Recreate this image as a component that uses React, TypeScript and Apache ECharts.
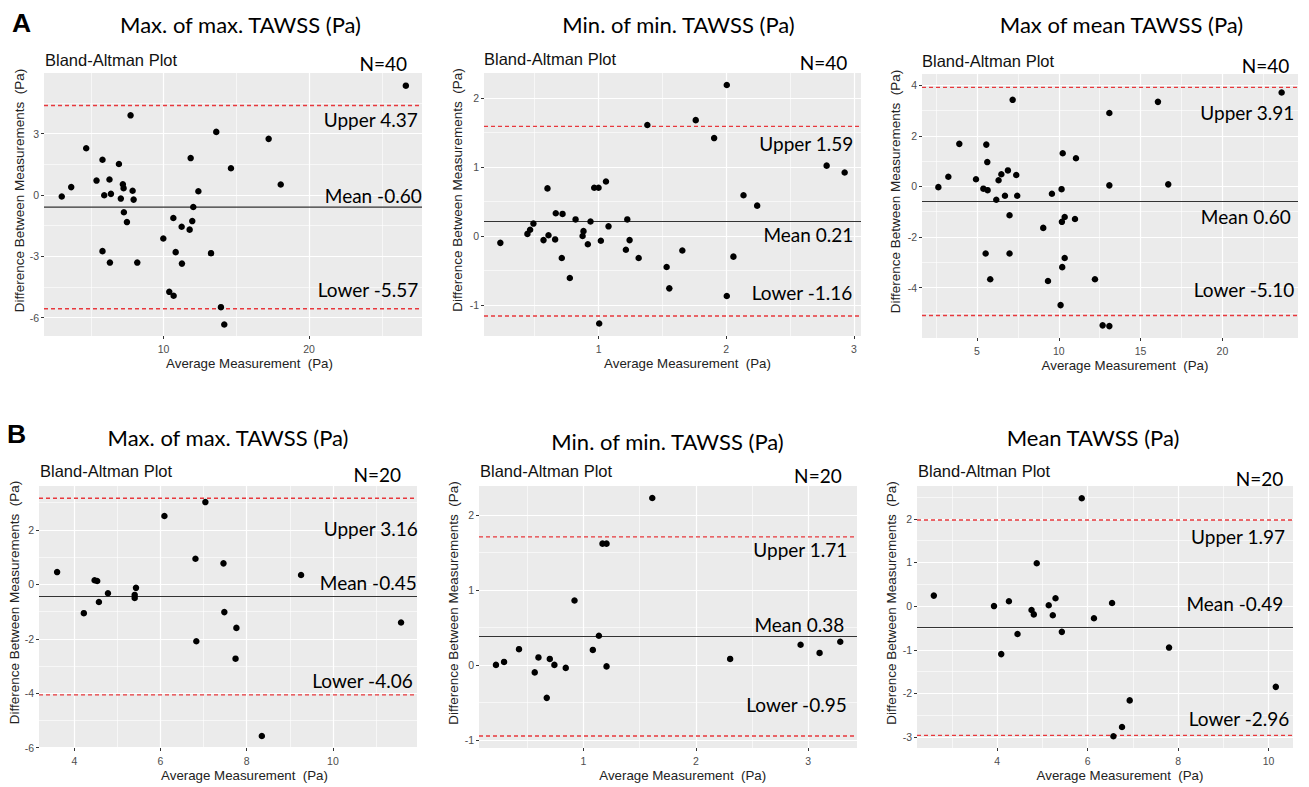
import React, { useEffect, useRef } from "react";
import * as echarts from "echarts";

const SANS = "'Liberation Sans', Arial, sans-serif";
const CAL = "Lato, 'Open Sans', sans-serif";

// ---------- data ----------
const titlesA = ["Max. of max. TAWSS (Pa)", "Min. of min. TAWSS (Pa)", "Max of mean TAWSS (Pa)"];
const titlesB = ["Max. of max. TAWSS (Pa)", "Min. of min. TAWSS (Pa)", "Mean TAWSS (Pa)"];
const nLabels = ["N=40", "N=40", "N=40", "N=20", "N=20", "N=20"];

const a1X = [26.65, 7.73, 13.62, 17.22, 4.68, 5.8, 11.86, 6.93, 14.63, 5.39, 6.28, 3.65, 18.05, 7.2, 7.25, 7.87, 12.39, 3.0, 5.92, 6.38, 7.06, 7.94, 12.04, 7.27, 7.48, 10.67, 11.24, 11.97, 11.79, 9.98, 5.8, 10.83, 13.26, 6.31, 8.19, 11.26, 10.39, 10.69, 13.94, 14.17];
const a1Y = [5.34, 3.89, 3.08, 2.74, 2.28, 1.72, 1.8, 1.51, 1.3, 0.7, 0.75, 0.38, 0.51, 0.52, 0.33, 0.2, 0.18, -0.08, -0.02, 0.05, -0.18, -0.23, -0.59, -0.85, -1.33, -1.13, -1.56, -1.28, -1.7, -2.13, -2.75, -2.8, -2.85, -3.31, -3.31, -3.36, -4.74, -4.93, -5.49, -6.34];

const a2X = [2.004, 1.382, 1.761, 1.905, 2.786, 2.927, 0.6, 0.966, 1.0, 1.058, 2.135, 2.242, 0.665, 0.718, 0.49, 0.82, 0.937, 1.225, 1.078, 0.464, 0.443, 0.608, 0.882, 0.875, 0.231, 0.569, 0.66, 1.018, 1.243, 0.916, 1.214, 1.656, 0.712, 1.314, 2.056, 0.775, 1.533, 1.554, 2.004, 1.005];
const a2Y = [2.19, 1.61, 1.68, 1.42, 1.02, 0.92, 0.69, 0.7, 0.7, 0.79, 0.59, 0.44, 0.33, 0.32, 0.18, 0.24, 0.21, 0.24, 0.14, 0.09, 0.03, 0.01, 0.07, 0.0, -0.1, -0.06, -0.05, -0.07, -0.06, -0.12, -0.2, -0.21, -0.32, -0.32, -0.3, -0.61, -0.45, -0.76, -0.87, -1.27];

const a3X = [23.62, 7.18, 16.06, 13.09, 3.92, 5.57, 10.24, 11.05, 5.63, 3.25, 4.94, 6.89, 6.49, 7.4, 6.32, 2.64, 5.39, 5.65, 13.09, 16.69, 10.17, 6.71, 7.46, 9.58, 6.18, 6.99, 10.36, 10.19, 10.99, 9.05, 5.53, 6.99, 10.36, 10.21, 5.81, 9.34, 12.21, 10.11, 12.68, 13.09];
const a3Y = [3.71, 3.42, 3.34, 2.9, 1.68, 1.65, 1.31, 1.11, 0.96, 0.38, 0.28, 0.63, 0.48, 0.45, 0.24, -0.03, -0.09, -0.15, 0.04, 0.08, -0.11, -0.37, -0.37, -0.29, -0.53, -1.14, -1.21, -1.4, -1.29, -1.64, -2.65, -2.65, -2.83, -3.19, -3.67, -3.74, -3.67, -4.69, -5.49, -5.52];

const b1X = [3.6, 4.47, 4.53, 4.22, 4.57, 4.78, 5.43, 5.4, 5.4, 6.09, 7.04, 6.81, 7.46, 9.26, 7.48, 7.76, 6.83, 7.74, 11.58, 8.35];
const b1Y = [0.45, 0.15, 0.12, -1.06, -0.65, -0.33, -0.13, -0.39, -0.5, 2.51, 3.02, 0.94, 0.77, 0.34, -1.02, -1.6, -2.09, -2.73, -1.4, -5.57];

const b2X = [1.612, 1.169, 1.205, 0.92, 1.137, 1.083, 0.426, 0.221, 0.293, 0.599, 0.7, 0.741, 0.566, 0.842, 1.205, 0.673, 2.305, 2.932, 3.101, 3.285];
const b2Y = [2.23, 1.62, 1.62, 0.86, 0.39, 0.2, 0.21, 0.0, 0.04, 0.1, 0.08, 0.0, -0.1, -0.04, -0.02, -0.44, 0.08, 0.27, 0.16, 0.31];

const b3X = [5.87, 4.875, 2.6, 3.93, 4.26, 4.76, 4.81, 5.14, 5.29, 5.23, 5.43, 4.45, 4.09, 6.14, 6.54, 7.8, 10.16, 6.93, 6.76, 6.57];
const b3Y = [2.47, 0.98, 0.24, 0.0, 0.11, -0.09, -0.19, 0.02, 0.18, -0.21, -0.59, -0.64, -1.1, -0.28, 0.07, -0.95, -1.85, -2.16, -2.77, -2.98];

// limits of agreement: upper, mean, lower
const a1Lines = [4.37, -0.6, -5.57];
const a2Lines = [1.59, 0.21, -1.16];
const a3Lines = [3.91, -0.6, -5.1];
const b1Lines = [3.16, -0.45, -4.06];
const b2Lines = [1.71, 0.38, -0.95];
const b3Lines = [1.97, -0.49, -2.96];

const a1Labels = ["Upper 4.37", "Mean -0.60", "Lower -5.57"];
const a2Labels = ["Upper 1.59", "Mean 0.21", "Lower -1.16"];
const a3Labels = ["Upper 3.91", "Mean 0.60", "Lower -5.10"];
const b1Labels = ["Upper 3.16", "Mean -0.45", "Lower -4.06"];
const b2Labels = ["Upper 1.71", "Mean 0.38", "Lower -0.95"];
const b3Labels = ["Upper 1.97", "Mean -0.49", "Lower -2.96"];

// axis ranges
const a1XRange = [1.78, 27.76];
const a1YRange = [-6.9, 5.96];
const a2XRange = [0.103, 3.055];
const a2YRange = [-1.451, 2.364];
const a3XRange = [1.64, 24.62];
const a3YRange = [-5.99, 4.44];
const b1XRange = [3.18, 11.95];
const b1YRange = [-6.01, 3.61];
const b2XRange = [0.07, 3.434];
const b2YRange = [-1.11, 2.39];
const b3XRange = [2.228, 10.54];
const b3YRange = [-3.25, 2.75];

// tick values (major = labelled, minor = minor gridlines)
const a1XTicks = [10, 20];
const a1XMinor = [5, 15, 25];
const a1YTicks = [-6, -3, 0, 3];
const a1YMinor = [-4.5, -1.5, 1.5, 4.5];
const a2XTicks = [1, 2, 3];
const a2XMinor = [0.5, 1.5, 2.5];
const a2YTicks = [-1, 0, 1, 2];
const a2YMinor = [-0.5, 0.5, 1.5];
const a3XTicks = [5, 10, 15, 20];
const a3XMinor = [2.5, 7.5, 12.5, 17.5, 22.5];
const a3YTicks = [-4, -2, 0, 2, 4];
const a3YMinor = [-5, -3, -1, 1, 3];
const b1XTicks = [4, 6, 8, 10];
const b1XMinor = [5, 7, 9, 11];
const b1YTicks = [-6, -4, -2, 0, 2];
const b1YMinor = [-5, -3, -1, 1, 3];
const b2XTicks = [1, 2, 3];
const b2XMinor = [0.5, 1.5, 2.5];
const b2YTicks = [-1, 0, 1, 2];
const b2YMinor = [-0.5, 0.5, 1.5];
const b3XTicks = [4, 6, 8, 10];
const b3XMinor = [3, 5, 7, 9];
const b3YTicks = [-3, -2, -1, 0, 1, 2];
const b3YMinor = [-2.5, -1.5, -0.5, 0.5, 1.5, 2.5];

const panels = [
  { title: titlesA[0], x: a1X, y: a1Y, lines: a1Lines, labels: a1Labels, xr: a1XRange, yr: a1YRange, xt: a1XTicks, xm: a1XMinor, yt: a1YTicks, ym: a1YMinor },
  { title: titlesA[1], x: a2X, y: a2Y, lines: a2Lines, labels: a2Labels, xr: a2XRange, yr: a2YRange, xt: a2XTicks, xm: a2XMinor, yt: a2YTicks, ym: a2YMinor },
  { title: titlesA[2], x: a3X, y: a3Y, lines: a3Lines, labels: a3Labels, xr: a3XRange, yr: a3YRange, xt: a3XTicks, xm: a3XMinor, yt: a3YTicks, ym: a3YMinor },
  { title: titlesB[0], x: b1X, y: b1Y, lines: b1Lines, labels: b1Labels, xr: b1XRange, yr: b1YRange, xt: b1XTicks, xm: b1XMinor, yt: b1YTicks, ym: b1YMinor },
  { title: titlesB[1], x: b2X, y: b2Y, lines: b2Lines, labels: b2Labels, xr: b2XRange, yr: b2YRange, xt: b2XTicks, xm: b2XMinor, yt: b2YTicks, ym: b2YMinor },
  { title: titlesB[2], x: b3X, y: b3Y, lines: b3Lines, labels: b3Labels, xr: b3XRange, yr: b3YRange, xt: b3XTicks, xm: b3XMinor, yt: b3YTicks, ym: b3YMinor },
];

// ---------- layout (pixels) ----------
const layout = [
  { grid: [44, 73, 378, 263], title: [240.5, 24.5], bland: [45, 60], n: [407, 63], lab: [[417.7, 119.3], [421.7, 195.5], [418.3, 289.2]], yTitle: [19, 190.5], xTitle: [249.5, 363] },
  { grid: [484, 73, 377, 263], title: [678.5, 24.5], bland: [484, 58.5], n: [847.3, 62.5], lab: [[853.3, 143], [853.3, 234.3], [852.3, 292.7]], yTitle: [457.5, 190], xTitle: [687.5, 363] },
  { grid: [922, 74, 376, 264], title: [1121.5, 24.5], bland: [922, 60.5], n: [1289.3, 65.8], lab: [[1294.3, 112.3], [1290.7, 216], [1294.3, 289]], yTitle: [895.5, 191.5], xTitle: [1125, 365] },
  { grid: [39, 486, 378, 262], title: [228, 437.5], bland: [40, 471], n: [401, 474.7], lab: [[417.7, 528.3], [416.7, 582.7], [412.7, 680]], yTitle: [14, 602.5], xTitle: [244.5, 775.5] },
  { grid: [479, 486, 378, 262], title: [667.5, 441], bland: [480, 471], n: [841.7, 475], lab: [[847.3, 549.3], [844.3, 624], [846.7, 704.3]], yTitle: [453.3, 603], xTitle: [682.7, 775.5] },
  { grid: [917, 486, 376, 262], title: [1093, 437.5], bland: [918, 470.5], n: [1283.3, 478], lab: [[1285, 536.7], [1283.3, 603.3], [1289.3, 718.3]], yTitle: [891, 603], xTitle: [1120, 775.5] },
];

function hLine(i: number, xr: number[], v: number, color: string, dashed: boolean, z: number) {
  return {
    type: "line", xAxisIndex: i, yAxisIndex: i, z, silent: true,
    symbol: "none", showSymbol: false, animation: false,
    lineStyle: { color, width: dashed ? 1.4 : 1.1, type: dashed ? [4, 3] : "solid", opacity: 1 },
    itemStyle: { color },
    emphasis: { disabled: true },
    data: [[xr[0], v], [xr[1], v]],
  };
}

function buildOption() {
  const grid: any[] = [];
  const xAxis: any[] = [];
  const yAxis: any[] = [];
  const series: any[] = [];
  const graphic: any[] = [];

  const tickLabel = { fontFamily: SANS, fontSize: 10.5, color: "#4D4D4D" };

  panels.forEach((p, i) => {
    const L = layout[i];
    grid.push({
      left: L.grid[0], top: L.grid[1], width: L.grid[2], height: L.grid[3],
      show: true, backgroundColor: "#EBEBEB", borderWidth: 0, containLabel: false,
    });
    xAxis.push({
      gridIndex: i, type: "value", min: p.xr[0], max: p.xr[1],
      axisLine: { show: false, onZero: false },
      axisTick: { show: true, length: 3, lineStyle: { color: "#333", width: 1 }, customValues: p.xt },
      axisLabel: { ...tickLabel, margin: 7, customValues: p.xt },
      splitLine: { show: false },
    });
    yAxis.push({
      gridIndex: i, type: "value", min: p.yr[0], max: p.yr[1],
      axisLine: { show: false, onZero: false },
      axisTick: { show: true, length: 3, lineStyle: { color: "#333", width: 1 }, customValues: p.yt },
      axisLabel: { ...tickLabel, margin: 5, customValues: p.yt },
      splitLine: { show: false },
    });

    const gridLines: any[] = [];
    p.xm.forEach((v) => gridLines.push({ xAxis: v, lineStyle: { color: "#FFFFFF", width: 0.6, type: "solid", opacity: 1 } }));
    p.ym.forEach((v) => gridLines.push({ yAxis: v, lineStyle: { color: "#FFFFFF", width: 0.6, type: "solid", opacity: 1 } }));
    p.xt.forEach((v) => gridLines.push({ xAxis: v, lineStyle: { color: "#FFFFFF", width: 1.2, type: "solid", opacity: 1 } }));
    p.yt.forEach((v) => gridLines.push({ yAxis: v, lineStyle: { color: "#FFFFFF", width: 1.2, type: "solid", opacity: 1 } }));

    series.push({
      type: "scatter", xAxisIndex: i, yAxisIndex: i, data: [], z: 1, silent: true,
      markLine: { z: 1, silent: true, symbol: ["none", "none"], label: { show: false }, emphasis: { disabled: true }, data: gridLines },
    });

    series.push(hLine(i, p.xr, p.lines[0], "#E8383D", true, 3));
    series.push(hLine(i, p.xr, p.lines[1], "#333333", false, 3));
    series.push(hLine(i, p.xr, p.lines[2], "#E8383D", true, 3));

    series.push({
      type: "scatter", xAxisIndex: i, yAxisIndex: i, z: 5,
      symbol: "circle", symbolSize: 6.5,
      itemStyle: { color: "#000000", opacity: 1 },
      data: p.x.map((xv, k) => [xv, p.y[k]]),
    });

    // texts
    graphic.push({
      type: "text", x: L.title[0], y: L.title[1],
      style: { text: p.title, font: `22px ${CAL}`, fill: "#000", textAlign: "center", textVerticalAlign: "middle" },
    });
    graphic.push({
      type: "text", x: L.bland[0], y: L.bland[1],
      style: { text: "Bland-Altman Plot", font: `16.5px ${SANS}`, fill: "#111", textAlign: "left", textVerticalAlign: "middle" },
    });
    graphic.push({
      type: "text", x: L.n[0], y: L.n[1],
      style: { text: nLabels[i], font: `19px ${CAL}`, fill: "#000", textAlign: "right", textVerticalAlign: "middle" },
    });
    p.labels.forEach((t, k) => {
      graphic.push({
        type: "text", x: L.lab[k][0], y: L.lab[k][1], z: 10,
        style: { text: t, font: `19px ${CAL}`, fill: "#000", textAlign: "right", textVerticalAlign: "middle" },
      });
    });
    graphic.push({
      type: "text", x: L.xTitle[0], y: L.xTitle[1],
      style: { text: "Average Measurement  (Pa)", font: `13.3px ${SANS}`, fill: "#222", textAlign: "center", textVerticalAlign: "middle" },
    });
    graphic.push({
      type: "text", x: L.yTitle[0], y: L.yTitle[1], rotation: Math.PI / 2,
      style: { text: "Difference Between Measurements  (Pa)", font: `13.5px ${SANS}`, fill: "#222", textAlign: "center", textVerticalAlign: "middle" },
    });
  });

  graphic.push({
    type: "text", x: 12, y: 22.5,
    style: { text: "A", font: `bold 26.5px ${SANS}`, fill: "#000", textAlign: "left", textVerticalAlign: "middle" },
  });
  graphic.push({
    type: "text", x: 7, y: 434,
    style: { text: "B", font: `bold 26.5px ${SANS}`, fill: "#000", textAlign: "left", textVerticalAlign: "middle" },
  });

  return {
    animation: false,
    backgroundColor: "#FFFFFF",
    grid, xAxis, yAxis, series, graphic,
  };
}

export default function App() {
  const ref = useRef<HTMLDivElement>(null);
  useEffect(() => {
    if (!ref.current) return;
    const chart = echarts.init(ref.current, undefined, { renderer: "svg" });
    chart.setOption(buildOption() as any);
    return () => chart.dispose();
  }, []);
  return (
    <div
      ref={ref}
      style={{ position: "fixed", left: 0, top: 0, width: 1309, height: 787, background: "#fff" }}
    />
  );
}
